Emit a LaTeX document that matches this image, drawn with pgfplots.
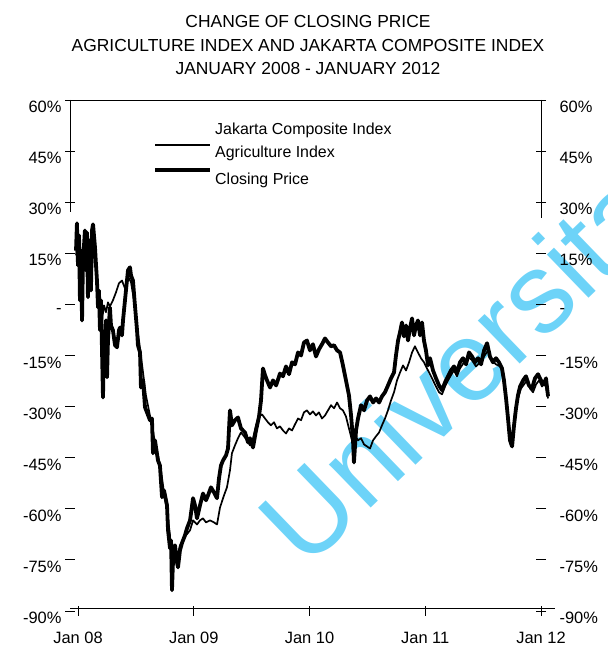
\documentclass[border=0pt]{standalone}
\usepackage{fontspec}
\setmainfont{Liberation Sans}
\usepackage{pgfplots}
\usepackage{pgfplotstable}
\pgfplotsset{compat=1.18}
\definecolor{wmark}{HTML}{6DD3F8}

% Closing price (thick line), x in years from Jan 08, y in percent change
\pgfplotstableread{
yr pct
-0.017 15.8
-0.009 23.8
0.000 11.4
0.009 20.3
0.017 1.2
0.026 15.8
0.035 -4.7
0.043 12.9
0.052 17.3
0.060 21.7
0.069 10.0
0.078 21.1
0.086 2.1
0.095 12.9
0.104 18.8
0.112 4.1
0.121 21.7
0.130 23.5
0.138 20.3
0.147 16.7
0.156 11.4
0.164 7.0
0.173 -0.9
0.181 4.1
0.190 -7.6
0.199 1.2
0.207 -12.6
0.216 -27.3
0.225 -10.6
0.233 -16.4
0.242 -4.7
0.251 -21.4
0.259 -10.6
0.276 -0.9
0.285 -6.2
0.302 -7.6
0.320 -12.0
0.337 -12.6
0.354 -7.6
0.363 -6.8
0.380 -9.1
0.389 -4.7
0.406 1.2
0.423 7.0
0.432 10.0
0.449 10.9
0.458 8.5
0.475 7.0
0.492 -0.3
0.510 -7.6
0.518 -12.0
0.536 -14.1
0.544 -24.4
0.562 -22.3
0.579 -30.2
0.596 -31.7
0.622 -34.0
0.639 -33.5
0.648 -43.7
0.665 -39.9
0.691 -45.8
0.708 -47.3
0.726 -56.6
0.743 -54.6
0.769 -59.0
0.778 -66.3
0.795 -71.6
0.804 -69.3
0.812 -83.9
0.821 -75.1
0.838 -70.7
0.855 -75.7
0.864 -77.2
0.881 -72.2
0.898 -70.1
0.924 -67.8
0.942 -65.7
0.968 -63.4
0.994 -56.9
1.011 -59.0
1.028 -62.8
1.054 -59.0
1.080 -55.5
1.106 -57.5
1.123 -56.1
1.149 -53.7
1.175 -55.2
1.201 -56.9
1.218 -51.1
1.235 -47.3
1.253 -45.8
1.279 -44.3
1.296 -42.3
1.313 -31.1
1.330 -35.5
1.356 -34.0
1.382 -33.2
1.408 -36.4
1.443 -37.6
1.469 -40.5
1.486 -39.3
1.512 -42.0
1.538 -37.0
1.564 -32.9
1.581 -28.2
1.598 -18.8
1.616 -20.8
1.633 -22.3
1.659 -24.4
1.685 -22.3
1.711 -23.8
1.745 -20.3
1.771 -21.1
1.797 -18.2
1.823 -20.5
1.849 -17.0
1.875 -17.6
1.901 -14.1
1.927 -15.0
1.952 -11.2
1.978 -10.6
2.004 -13.5
2.030 -11.7
2.056 -15.3
2.082 -13.2
2.108 -11.7
2.134 -10.0
2.160 -11.2
2.186 -12.3
2.212 -12.0
2.238 -13.5
2.264 -14.1
2.289 -17.9
2.315 -22.3
2.341 -26.7
2.359 -32.6
2.376 -39.9
2.384 -46.4
2.402 -37.0
2.419 -33.5
2.445 -29.6
2.471 -31.1
2.497 -28.2
2.523 -27.0
2.549 -28.8
2.575 -27.6
2.601 -28.8
2.626 -27.0
2.652 -25.8
2.678 -23.8
2.704 -21.7
2.730 -20.0
2.747 -15.0
2.765 -10.6
2.782 -8.2
2.799 -5.3
2.816 -9.4
2.834 -6.2
2.851 -10.6
2.868 -7.0
2.886 -4.1
2.903 -9.1
2.920 -6.2
2.937 -4.7
2.955 -9.1
2.972 -5.3
2.989 -10.6
3.006 -13.5
3.024 -17.9
3.041 -15.8
3.067 -19.4
3.093 -21.7
3.119 -23.8
3.145 -25.2
3.171 -22.9
3.197 -21.1
3.222 -19.4
3.248 -18.2
3.274 -20.0
3.300 -17.0
3.326 -15.8
3.352 -17.6
3.378 -14.1
3.404 -15.3
3.430 -17.0
3.456 -15.8
3.482 -17.6
3.508 -13.5
3.534 -11.4
3.559 -15.3
3.585 -17.0
3.611 -15.8
3.637 -17.0
3.663 -18.8
3.680 -22.3
3.698 -27.6
3.715 -33.5
3.732 -39.9
3.750 -41.7
3.767 -35.5
3.784 -30.5
3.801 -26.7
3.819 -24.1
3.845 -22.3
3.870 -21.1
3.896 -23.8
3.922 -24.7
3.948 -21.7
3.974 -20.5
4.000 -22.3
4.026 -23.5
4.043 -21.7
4.061 -27.0
}\closingtab

% Agriculture index (thin line)
\pgfplotstableread{
yr pct
-0.017 14.4
0.000 18.8
0.017 11.4
0.035 15.8
0.052 12.3
0.069 17.0
0.086 10.0
0.104 15.3
0.121 18.8
0.138 16.4
0.156 10.0
0.173 2.6
0.190 -1.8
0.207 -4.7
0.225 -0.3
0.242 -2.3
0.259 0.6
0.276 -0.6
0.302 1.2
0.328 3.5
0.354 6.2
0.380 7.0
0.406 4.7
0.432 8.2
0.458 6.5
0.484 1.2
0.510 -6.2
0.536 -12.9
0.562 -20.0
0.587 -26.7
0.613 -31.1
0.639 -35.5
0.665 -40.5
0.691 -44.3
0.717 -48.7
0.743 -55.2
0.769 -60.5
0.795 -67.8
0.812 -78.1
0.829 -71.6
0.855 -74.5
0.881 -70.7
0.907 -69.3
0.933 -67.8
0.968 -66.3
0.994 -63.4
1.028 -64.6
1.054 -63.4
1.080 -62.8
1.106 -64.0
1.140 -63.4
1.175 -64.0
1.201 -64.6
1.227 -59.6
1.261 -56.1
1.287 -53.7
1.313 -48.7
1.330 -43.7
1.356 -41.4
1.382 -39.3
1.408 -37.6
1.434 -38.7
1.460 -39.9
1.486 -41.4
1.512 -39.3
1.538 -35.5
1.564 -32.9
1.590 -32.3
1.616 -33.5
1.641 -34.6
1.667 -35.5
1.693 -34.6
1.719 -36.4
1.745 -35.8
1.771 -37.0
1.797 -37.9
1.823 -36.4
1.849 -37.0
1.875 -35.2
1.901 -33.5
1.927 -34.0
1.952 -31.7
1.978 -31.1
2.004 -32.3
2.030 -31.4
2.056 -32.6
2.082 -31.7
2.108 -33.5
2.134 -32.6
2.160 -31.1
2.186 -29.6
2.212 -30.5
2.238 -28.8
2.264 -30.5
2.289 -31.1
2.315 -32.9
2.341 -36.4
2.367 -39.9
2.393 -38.4
2.419 -39.9
2.445 -39.3
2.471 -41.1
2.497 -41.7
2.523 -42.3
2.549 -39.9
2.575 -38.7
2.601 -37.6
2.626 -35.5
2.652 -33.5
2.678 -31.1
2.704 -28.2
2.730 -25.8
2.756 -22.3
2.782 -20.0
2.808 -17.9
2.834 -19.4
2.860 -17.0
2.886 -14.1
2.911 -12.3
2.937 -14.1
2.963 -15.8
2.989 -17.0
3.015 -18.8
3.041 -20.5
3.067 -22.3
3.093 -24.1
3.119 -25.8
3.145 -26.4
3.171 -24.1
3.197 -22.3
3.222 -20.8
3.248 -19.4
3.274 -21.1
3.300 -18.8
3.335 -17.0
3.369 -15.3
3.404 -16.4
3.438 -18.2
3.473 -17.0
3.508 -15.3
3.542 -13.5
3.577 -16.4
3.611 -17.6
3.646 -18.2
3.672 -20.0
3.689 -24.7
3.706 -29.6
3.724 -35.5
3.741 -39.3
3.758 -37.0
3.775 -31.7
3.801 -27.6
3.827 -24.7
3.853 -23.5
3.879 -22.3
3.905 -24.7
3.931 -25.8
3.957 -23.5
3.983 -22.3
4.009 -24.1
4.035 -23.0
4.061 -27.6
}\agritab

\pgfplotsset{
 base/.style={at={(70bp,38bp)},anchor=south west,scale only axis,
  width=471bp,height=511bp,xmin=-0.069,xmax=4,ymin=-90,ymax=60,clip=false,
  axis line style={draw=none},
  ytick={60,45,30,15,0,-15,-30,-45,-60,-75,-90},
  yticklabels={60\%,45\%,30\%,15\%,-,-15\%,-30\%,-45\%,-60\%,-75\%,-90\%},
  tick align=center,major tick length=10bp,tick style={black,line width=0.9bp},
  ticklabel style={font=\fontsize{16.5}{18}\selectfont},
  yticklabel style={yshift=-7bp}},
}

\begin{document}
\begin{tikzpicture}[x=1bp,y=1bp]
\useasboundingbox (0,0) rectangle (608,649);
\node[wmark,rotate=44,anchor=base west,inner sep=0pt,font=\fontsize{114}{120}\selectfont] at (306,78) {Universitas};

\node[font=\fontsize{17.5}{20}\selectfont] at (308,627) {CHANGE OF CLOSING PRICE};
\node[font=\fontsize{17.5}{20}\selectfont] at (308,603) {AGRICULTURE INDEX AND JAKARTA COMPOSITE INDEX};
\node[font=\fontsize{17.5}{20}\selectfont] at (308,580) {JANUARY 2008 - JANUARY 2012};

\begin{axis}[base,axis x line*=bottom,axis y line*=left,
 xtick={0,1,2,3,4},xticklabels={Jan 08,Jan 09,Jan 10,Jan 11,Jan 12},
 xticklabel style={yshift=-13bp}]
\addplot[black,line width=1.7bp,line join=round] table[x=yr,y=pct] {\agritab};
\addplot[black,line width=3.8bp,line join=round] table[x=yr,y=pct] {\closingtab};
\draw[line width=0.9bp] (rel axis cs:0,1) -- (rel axis cs:1,1);
\draw[line width=0.9bp] (rel axis cs:0,1) -- (rel axis cs:0,0.78);
\draw[line width=0.9bp] (rel axis cs:1,1) -- (rel axis cs:1,0.77);
\draw[line width=0.9bp] (rel axis cs:0,0.005) -- (rel axis cs:1.03,0.005);
\end{axis}

\begin{axis}[base,axis x line=none,axis y line*=right,yticklabel style={xshift=10bp}]
\end{axis}

% legend
\draw[line width=1.1bp] (155,504) -- (210,504);
\draw[line width=3.5bp] (155,479) -- (210,479);
\begin{scope}[every node/.style={anchor=west,inner sep=0pt,font=\fontsize{16}{18}\selectfont}]
\node at (215,519) {Jakarta Composite Index};
\node at (215,496) {Agriculture Index};
\node at (215,469) {Closing Price};
\end{scope}
\end{tikzpicture}
\end{document}
